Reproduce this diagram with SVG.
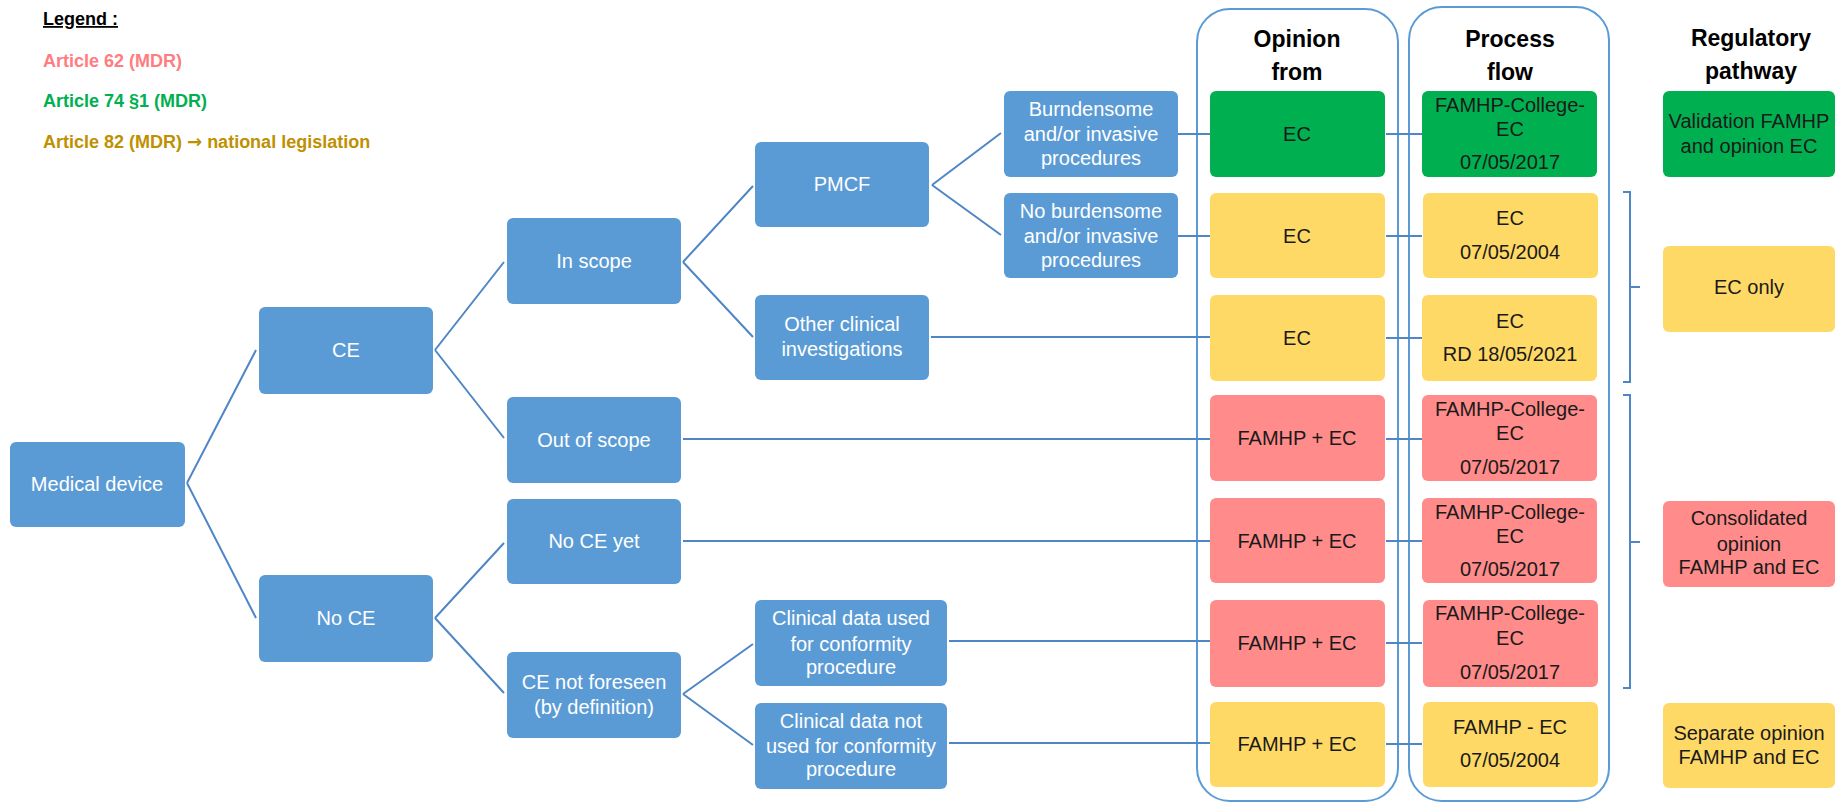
<svg xmlns="http://www.w3.org/2000/svg" width="1836" height="803" viewBox="0 0 1836 803">
<style>
text{font-family:"Liberation Sans",Arial,sans-serif;font-size:20px;text-anchor:middle}
.b rect{fill:#5B9BD5}
.b text{fill:#fff}
.g rect{fill:#00B050}
.y rect{fill:#FFD966}
.p rect{fill:#FF8B8B}
.g text,.y text,.p text{fill:#1a1a1a}
.hd{font-weight:bold;font-size:23px;fill:#000}
.col{fill:none;stroke:#5B9BD5;stroke-width:2}
.lg{font-weight:bold;font-size:18px;text-anchor:start}
.arr{font-family:"DejaVu Sans",sans-serif}
#connectors path{fill:none;stroke:#4F86C6;stroke-width:2}
</style>
<rect width="1836" height="803" fill="#fff"/>
<g id="legend">
<text class="lg" x="43" y="25" font-size="17" fill="#000" text-decoration="underline">Legend :</text>
<text class="lg" x="43" y="67" fill="#FF7C80">Article 62 (MDR)</text>
<text class="lg" x="43" y="107" fill="#00B050">Article 74 §1 (MDR)</text>
<text class="lg" x="43" y="148" fill="#BF9000">Article 82 (MDR) <tspan class="arr">→</tspan> national legislation</text>
</g>
<g id="columns">
<rect class="col" x="1197" y="9" width="201" height="792" rx="33"/>
<rect class="col" x="1409" y="7" width="200" height="794" rx="33"/>
<text class="hd" x="1297" y="47">Opinion</text>
<text class="hd" x="1297" y="80">from</text>
<text class="hd" x="1510" y="47">Process</text>
<text class="hd" x="1510" y="80">flow</text>
<text class="hd" x="1751" y="46">Regulatory</text>
<text class="hd" x="1751" y="79">pathway</text>
</g>
<g id="connectors">
<path d="M187,483 L256,350 M187,483 L256,618"/>
<path d="M435,350 L504,262 M435,350 L504,438"/>
<path d="M435,618 L504,543 M435,618 L504,693"/>
<path d="M683,262 L753,186 M683,262 L753,337"/>
<path d="M932,185 L1001,133 M932,185 L1001,235"/>
<path d="M683,694 L753,644 M683,694 L753,745"/>
<path d="M1178,134 H1210 M1178,236 H1210 M931,337 H1210 M683,439 H1210 M683,541 H1210 M949,641 H1210 M949,743 H1210"/>
<path d="M1386,134 H1422 M1386,236 H1422 M1386,338 H1422 M1386,439 H1422 M1386,541 H1422 M1386,643 H1422 M1386,744 H1422"/>
<path d="M1623,192 H1630 V382 H1623 M1630,287 H1640"/>
<path d="M1623,395 H1630 V688 H1623 M1630,542 H1640"/>
</g>
<g id="n-md" class="b"><rect x="10" y="442" width="175" height="85" rx="6"/><text x="97" y="491">Medical device</text></g>
<g id="n-ce" class="b"><rect x="259" y="307" width="174" height="87" rx="6"/><text x="346" y="357">CE</text></g>
<g id="n-noce" class="b"><rect x="259" y="575" width="174" height="87" rx="6"/><text x="346" y="625">No CE</text></g>
<g id="n-inscope" class="b"><rect x="507" y="218" width="174" height="86" rx="6"/><text x="594" y="268">In scope</text></g>
<g id="n-outscope" class="b"><rect x="507" y="397" width="174" height="86" rx="6"/><text x="594" y="447">Out of scope</text></g>
<g id="n-noceyet" class="b"><rect x="507" y="499" width="174" height="85" rx="6"/><text x="594" y="548">No CE yet</text></g>
<g id="n-cenot" class="b"><rect x="507" y="652" width="174" height="86" rx="6"/><text x="594" y="689">CE not foreseen</text><text x="594" y="714">(by definition)</text></g>
<g id="n-pmcf" class="b"><rect x="755" y="142" width="174" height="85" rx="6"/><text x="842" y="191">PMCF</text></g>
<g id="n-other" class="b"><rect x="755" y="295" width="174" height="85" rx="6"/><text x="842" y="331">Other clinical</text><text x="842" y="356">investigations</text></g>
<g id="n-burd" class="b"><rect x="1004" y="91" width="174" height="86" rx="6"/><text x="1091" y="116">Burndensome</text><text x="1091" y="141">and/or invasive</text><text x="1091" y="165">procedures</text></g>
<g id="n-noburd" class="b"><rect x="1004" y="193" width="174" height="85" rx="6"/><text x="1091" y="218">No burdensome</text><text x="1091" y="243">and/or invasive</text><text x="1091" y="267">procedures</text></g>
<g id="n-cdused" class="b"><rect x="755" y="600" width="192" height="86" rx="6"/><text x="851" y="625">Clinical data used</text><text x="851" y="651">for conformity</text><text x="851" y="674">procedure</text></g>
<g id="n-cdnot" class="b"><rect x="755" y="703" width="192" height="86" rx="6"/><text x="851" y="728">Clinical data not</text><text x="851" y="753">used for conformity</text><text x="851" y="776">procedure</text></g>
<g id="o1" class="g"><rect x="1210" y="91" width="175" height="86" rx="6"/><text x="1297" y="141">EC</text></g>
<g id="o2" class="y"><rect x="1210" y="193" width="175" height="85" rx="6"/><text x="1297" y="243">EC</text></g>
<g id="o3" class="y"><rect x="1210" y="295" width="175" height="86" rx="6"/><text x="1297" y="345">EC</text></g>
<g id="o4" class="p"><rect x="1210" y="395" width="175" height="86" rx="6"/><text x="1297" y="445">FAMHP + EC</text></g>
<g id="o5" class="p"><rect x="1210" y="498" width="175" height="85" rx="6"/><text x="1297" y="548">FAMHP + EC</text></g>
<g id="o6" class="p"><rect x="1210" y="600" width="175" height="87" rx="6"/><text x="1297" y="650">FAMHP + EC</text></g>
<g id="o7" class="y"><rect x="1210" y="702" width="175" height="85" rx="6"/><text x="1297" y="751">FAMHP + EC</text></g>
<g id="f1" class="g"><rect x="1422" y="91" width="175" height="86" rx="6"/><text x="1510" y="112">FAMHP-College-</text><text x="1510" y="136">EC</text><text x="1510" y="169">07/05/2017</text></g>
<g id="f2" class="y"><rect x="1423" y="193" width="175" height="85" rx="6"/><text x="1510" y="225">EC</text><text x="1510" y="259">07/05/2004</text></g>
<g id="f3" class="y"><rect x="1422" y="295" width="175" height="86" rx="6"/><text x="1510" y="328">EC</text><text x="1510" y="361">RD 18/05/2021</text></g>
<g id="f4" class="p"><rect x="1422" y="395" width="175" height="86" rx="6"/><text x="1510" y="416">FAMHP-College-</text><text x="1510" y="440">EC</text><text x="1510" y="474">07/05/2017</text></g>
<g id="f5" class="p"><rect x="1422" y="498" width="175" height="85" rx="6"/><text x="1510" y="519">FAMHP-College-</text><text x="1510" y="543">EC</text><text x="1510" y="576">07/05/2017</text></g>
<g id="f6" class="p"><rect x="1423" y="600" width="175" height="87" rx="6"/><text x="1510" y="620">FAMHP-College-</text><text x="1510" y="645">EC</text><text x="1510" y="679">07/05/2017</text></g>
<g id="f7" class="y"><rect x="1423" y="702" width="175" height="85" rx="6"/><text x="1510" y="734">FAMHP - EC</text><text x="1510" y="767">07/05/2004</text></g>
<g id="r1" class="g"><rect x="1663" y="91" width="172" height="86" rx="6"/><text x="1749" y="128">Validation FAMHP</text><text x="1749" y="153">and opinion EC</text></g>
<g id="r2" class="y"><rect x="1663" y="246" width="172" height="86" rx="6"/><text x="1749" y="294">EC only</text></g>
<g id="r3" class="p"><rect x="1663" y="501" width="172" height="86" rx="6"/><text x="1749" y="525">Consolidated</text><text x="1749" y="551">opinion</text><text x="1749" y="574">FAMHP and EC</text></g>
<g id="r4" class="y"><rect x="1663" y="703" width="172" height="85" rx="6"/><text x="1749" y="740">Separate opinion</text><text x="1749" y="764">FAMHP and EC</text></g>
</svg>
